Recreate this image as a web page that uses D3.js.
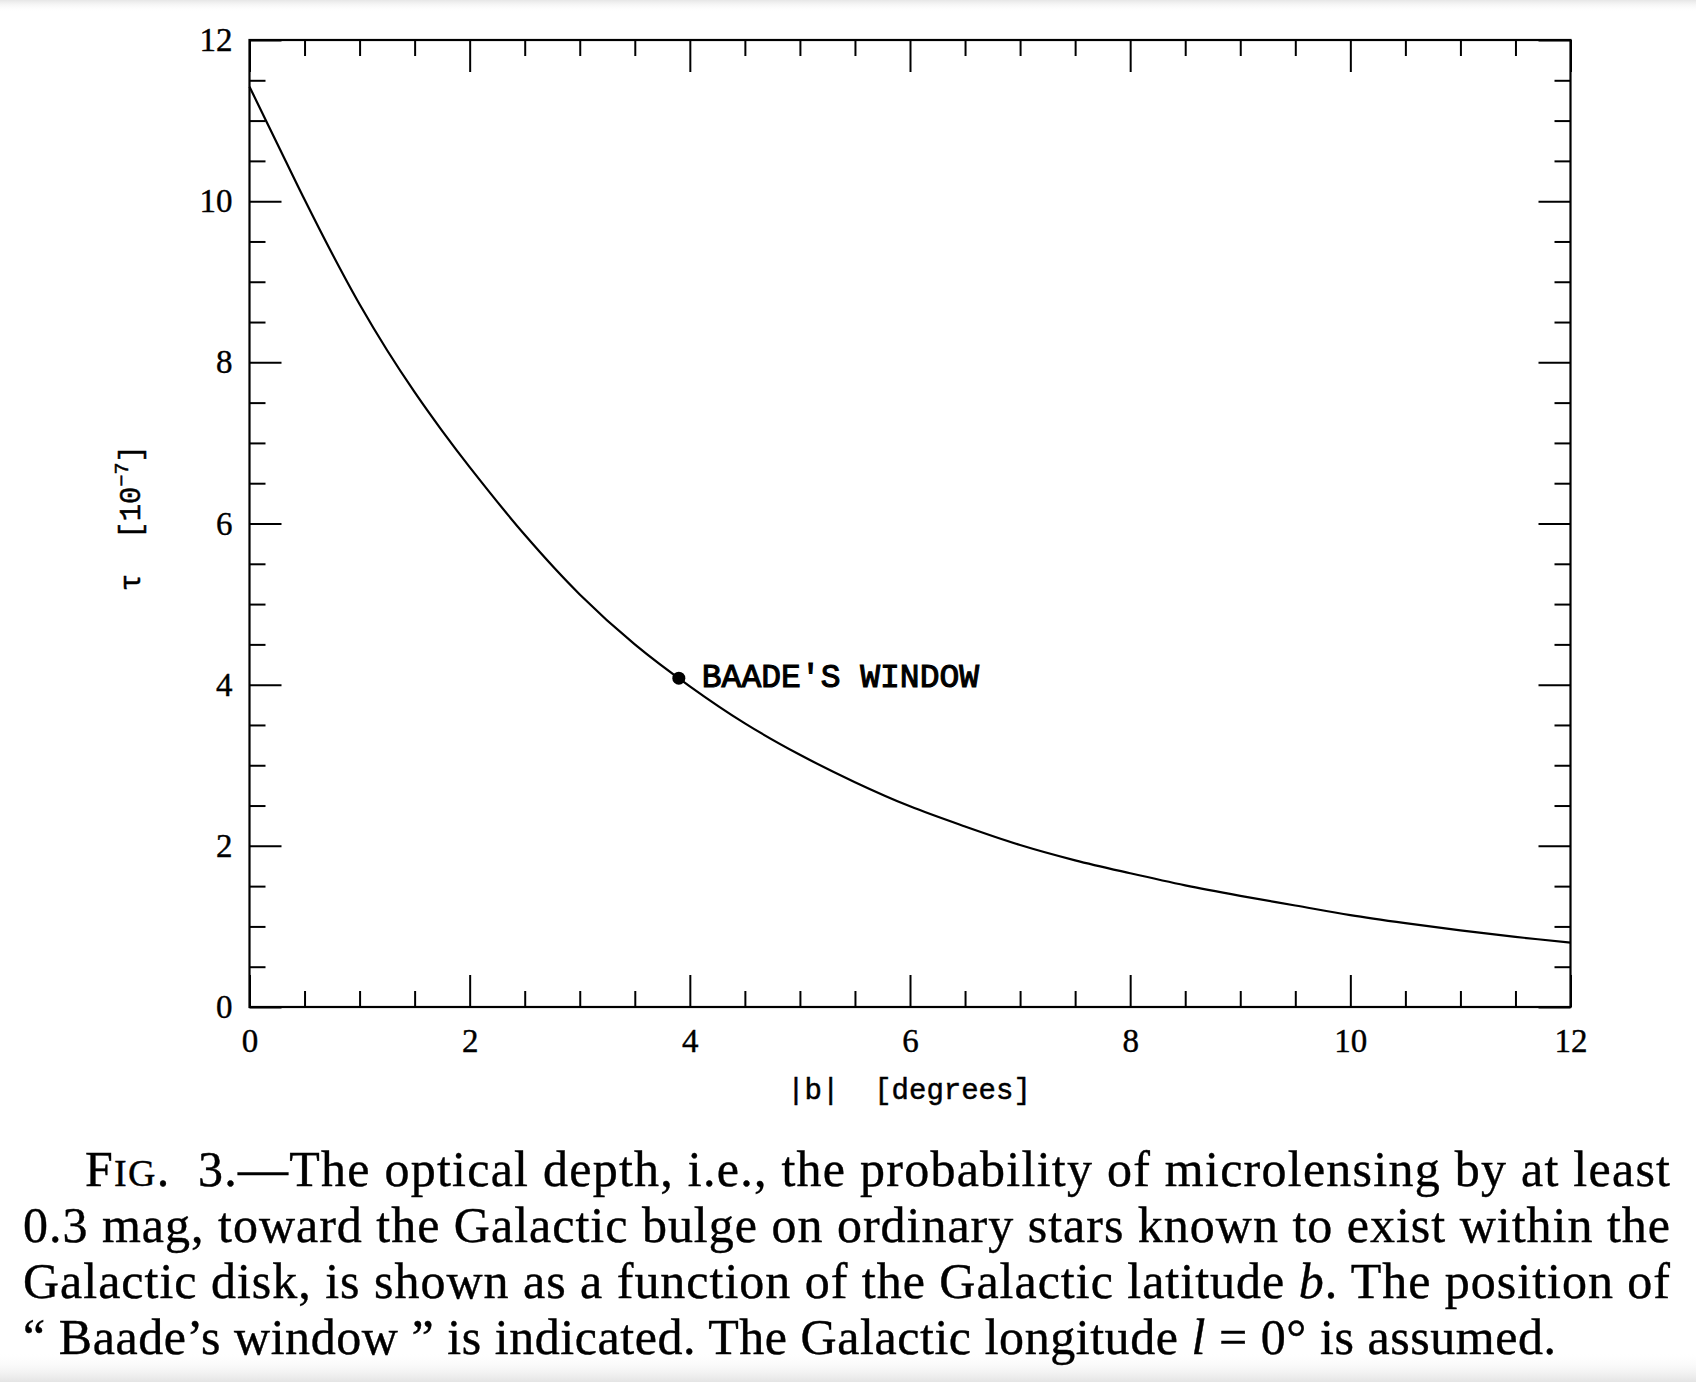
<!DOCTYPE html>
<html>
<head>
<meta charset="utf-8">
<script src="https://cdn.jsdelivr.net/npm/d3@7"></script>
<style>
  html, body { margin: 0; padding: 0; background: #fff; }
  svg { display: block; }
</style>
</head>
<body>
<svg id="chart" width="1696" height="1382"></svg>
<script>
// |b| in degrees and optical depth tau in units of 1e-7
const bValues   = [0, 0.25, 0.5, 0.75, 1, 1.25, 1.5, 1.75, 2, 2.5, 3, 3.5, 4, 4.5, 5, 5.5, 6,
                   6.5, 7, 7.5, 8, 8.5, 9, 9.5, 10, 10.5, 11, 11.5, 12];
const tauValues = [11.42, 10.72, 10.02, 9.35, 8.72, 8.15, 7.63, 7.15, 6.70, 5.86, 5.12, 4.50, 3.98,
                   3.52, 3.13, 2.79, 2.49, 2.24, 2.01, 1.82, 1.66, 1.51, 1.38, 1.26, 1.14, 1.04,
                   0.95, 0.87, 0.80];

// Baade's window marker
const baadeB = 3.9;
const baadeTau = 4.08;
const baadeLabel = "BAADE'S WINDOW";

const majorTicks = [0, 2, 4, 6, 8, 10, 12];
const minorTicks = d3.range(0, 12.01, 0.5).filter(v => v % 2 !== 0);

const captionLines = [
  [{ t: 'F' }, { t: 'IG', small: true }, { t: '.  3.—The optical depth, i.e., the probability of microlensing by at least' }],
  [{ t: '0.3 mag, toward the Galactic bulge on ordinary stars known to exist within the' }],
  [{ t: 'Galactic disk, is shown as a function of the Galactic latitude ' }, { t: 'b', it: true }, { t: '. The position of' }],
  [{ t: '“ Baade’s window ” is indicated. The Galactic longitude ' }, { t: 'l', it: true }, { t: ' = 0° is assumed.' }]
];

const svg = d3.select('#chart');

// faint scan shading at top and bottom edges
const defs = svg.append('defs');
const gBot = defs.append('linearGradient').attr('id', 'shadeBot').attr('x1', 0).attr('x2', 0).attr('y1', 0).attr('y2', 1);
gBot.append('stop').attr('offset', 0).attr('stop-color', '#fff').attr('stop-opacity', 0);
gBot.append('stop').attr('offset', 1).attr('stop-color', '#e4e4e4').attr('stop-opacity', 1);
const gTop = defs.append('linearGradient').attr('id', 'shadeTop').attr('x1', 0).attr('x2', 0).attr('y1', 0).attr('y2', 1);
gTop.append('stop').attr('offset', 0).attr('stop-color', '#e6e6e6');
gTop.append('stop').attr('offset', 1).attr('stop-color', '#fff').attr('stop-opacity', 0);

svg.append('rect').attr('width', 1696).attr('height', 1382).attr('fill', '#fff');
svg.append('rect').attr('y', 1352).attr('width', 1696).attr('height', 30).attr('fill', 'url(#shadeBot)');
svg.append('rect').attr('y', 0).attr('width', 1696).attr('height', 12).attr('fill', 'url(#shadeTop)');

const x = d3.scaleLinear().domain([0, 12]).range([249.5, 1570.5]);
const y = d3.scaleLinear().domain([0, 12]).range([1007, 40]);

const MAJ = 32, MIN = 16;
const numFont = '"Liberation Serif", "Times New Roman", serif';
const monoFont = '"Liberation Mono", "Courier New", monospace';

function styleAxis(g) {
  g.select('.domain').remove();
  g.selectAll('.tick line').attr('stroke', '#000').attr('stroke-width', 2);
  g.selectAll('.tick text').attr('fill', '#000').attr('stroke', '#000').attr('stroke-width', 0.4)
    .style('font-family', numFont).style('font-size', '33px');
}

// bottom
svg.append('g').attr('transform', `translate(0,${y(0)})`)
  .call(d3.axisBottom(x).tickValues(majorTicks).tickSize(-MAJ).tickPadding(22).tickFormat(d3.format('d')))
  .call(styleAxis);
svg.append('g').attr('transform', `translate(0,${y(0)})`)
  .call(d3.axisBottom(x).tickValues(minorTicks).tickSize(-MIN).tickFormat(''))
  .call(styleAxis);
// top
svg.append('g').attr('transform', `translate(0,${y(12)})`)
  .call(d3.axisTop(x).tickValues(majorTicks).tickSize(-MAJ).tickFormat(''))
  .call(styleAxis);
svg.append('g').attr('transform', `translate(0,${y(12)})`)
  .call(d3.axisTop(x).tickValues(minorTicks).tickSize(-MIN).tickFormat(''))
  .call(styleAxis);
// left
svg.append('g').attr('transform', `translate(${x(0)},0)`)
  .call(d3.axisLeft(y).tickValues(majorTicks).tickSize(-MAJ).tickPadding(17).tickFormat(d3.format('d')))
  .call(styleAxis);
svg.append('g').attr('transform', `translate(${x(0)},0)`)
  .call(d3.axisLeft(y).tickValues(minorTicks).tickSize(-MIN).tickFormat(''))
  .call(styleAxis);
// right
svg.append('g').attr('transform', `translate(${x(12)},0)`)
  .call(d3.axisRight(y).tickValues(majorTicks).tickSize(-MAJ).tickFormat(''))
  .call(styleAxis);
svg.append('g').attr('transform', `translate(${x(12)},0)`)
  .call(d3.axisRight(y).tickValues(minorTicks).tickSize(-MIN).tickFormat(''))
  .call(styleAxis);

// frame
svg.append('rect')
  .attr('x', x(0)).attr('y', y(12))
  .attr('width', x(12) - x(0)).attr('height', y(0) - y(12))
  .attr('fill', 'none').attr('stroke', '#000').attr('stroke-width', 2.2);

// curve
const pts = bValues.map((b, i) => [b, tauValues[i]]);
svg.append('path')
  .datum(pts)
  .attr('fill', 'none')
  .attr('stroke', '#000')
  .attr('stroke-width', 2.2)
  .attr('d', d3.line().x(d => x(d[0])).y(d => y(d[1])).curve(d3.curveCatmullRom.alpha(0.5)));

// Baade's window
svg.append('circle')
  .attr('cx', x(baadeB)).attr('cy', y(baadeTau)).attr('r', 6.5).attr('fill', '#000');
svg.append('text')
  .attr('x', x(baadeB) + 23).attr('y', y(baadeTau) + 9)
  .style('font-family', monoFont).style('font-size', '33px')
  .attr('fill', '#000').attr('stroke', '#000').attr('stroke-width', 1.1)
  .text(baadeLabel);

// axis titles
svg.append('text')
  .attr('x', 909).attr('y', 1099)
  .attr('text-anchor', 'middle')
  .style('font-family', monoFont).style('font-size', '29px')
  .attr('fill', '#000').attr('stroke', '#000').attr('stroke-width', 0.5)
  .attr('xml:space', 'preserve')
  .text('|b|  [degrees]');

const yTitle = svg.append('text')
  .attr('transform', 'translate(140,518) rotate(-90)')
  .attr('text-anchor', 'middle')
  .style('font-family', monoFont).style('font-size', '29px')
  .attr('fill', '#000').attr('stroke', '#000').attr('stroke-width', 0.5)
  .attr('xml:space', 'preserve');
yTitle.append('tspan').text('τ  [10');
yTitle.append('tspan').attr('dy', '-12').style('font-size', '20px').text('−7');
yTitle.append('tspan').attr('dy', '12').text(']');

// caption
const capFont = '"Liberation Serif", "Times New Roman", serif';
const capBase = [1186, 1242, 1298, 1354];
const capX = [85, 23, 23, 23];
const capRight = [1670, 1670, 1670, 1556];
captionLines.forEach((parts, i) => {
  const t = svg.append('text')
    .attr('x', capX[i]).attr('y', capBase[i])
    .attr('textLength', capRight[i] - capX[i])
    .attr('lengthAdjust', 'spacing')
    .attr('xml:space', 'preserve')
    .style('font-family', capFont).style('font-size', '50px')
    .attr('fill', '#000').attr('stroke', '#000').attr('stroke-width', 0.4);
  parts.forEach(p => {
    const s = t.append('tspan').text(p.t);
    if (p.small) s.style('font-size', '38px');
    if (p.it) s.style('font-style', 'italic');
  });
});
</script>
</body>
</html>
